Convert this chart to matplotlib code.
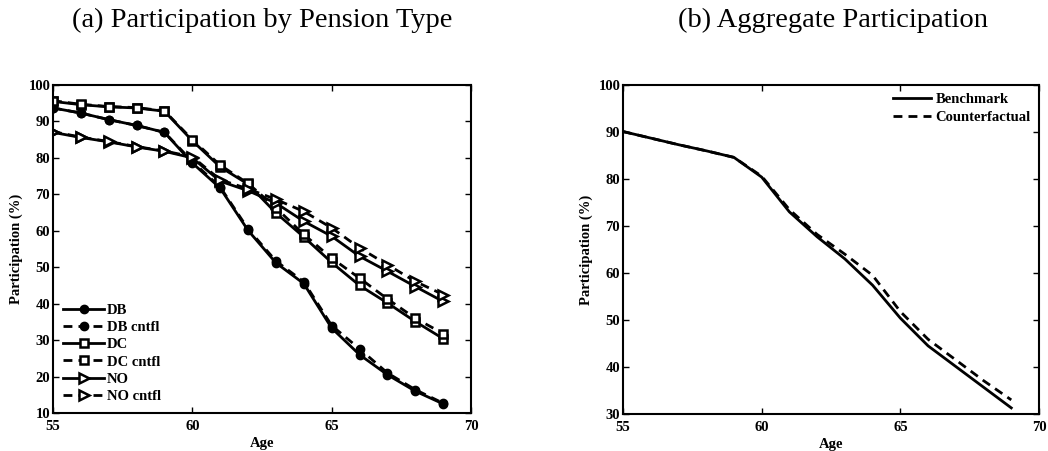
import matplotlib
matplotlib.use("Agg")
import matplotlib.pyplot as plt

ages = [55, 56, 57, 58, 59, 60, 61, 62, 63, 64, 65, 66, 67, 68, 69]

db = [93.7, 92.3, 90.5, 88.9, 87.0, 78.6, 71.7, 60.1, 51.2, 45.5, 33.3, 26.0, 20.5, 16.0, 12.5]
db_cf = [93.7, 92.3, 90.5, 88.9, 87.0, 79.0, 72.0, 60.5, 51.7, 46.0, 34.0, 27.6, 21.0, 16.4, 12.7]
dc = [95.5, 94.6, 94.0, 93.7, 92.8, 84.7, 77.5, 72.8, 64.9, 58.3, 51.3, 45.0, 40.2, 35.1, 30.4]
dc_cf = [95.7, 94.7, 94.1, 93.8, 92.9, 85.0, 78.0, 73.0, 66.3, 59.0, 52.5, 47.0, 41.3, 36.0, 31.8]
no = [87.0, 85.6, 84.4, 83.0, 81.8, 80.0, 73.6, 71.0, 67.6, 62.6, 58.5, 53.0, 48.9, 44.7, 40.6]
no_cf = [87.2, 85.7, 84.5, 83.1, 81.9, 80.3, 74.0, 71.5, 68.6, 65.3, 60.8, 55.3, 50.7, 46.1, 42.5]

bench = [90.1, 88.7, 87.3, 86.0, 84.6, 80.4, 73.0, 67.7, 63.0, 57.4, 50.4, 44.5, 40.1, 35.7, 31.3]
cntf = [90.1, 88.7, 87.3, 86.0, 84.6, 80.6, 73.5, 68.2, 64.0, 59.5, 51.8, 45.9, 41.5, 37.1, 33.0]

xticks = [55, 60, 65, 70]

plt.rcParams['font.family'] = ['Liberation Serif', 'DejaVu Serif']
plt.rcParams['font.weight'] = 'bold'

fs = 10.5
dash = (3.2, 2.2)

fig = plt.figure(figsize=(10.48, 4.51), dpi=100)
ax1 = fig.add_axes([53/1048, 1-413/451, 418/1048, 328/451])
ax2 = fig.add_axes([623/1048, 1-414/451, 416/1048, 329/451])

lw = 2.0
ms = 6
mew = 1.8
ax1.plot(ages, db, '-', color='k', lw=lw, marker='o', ms=ms, mfc='k', mec='k', label='DB')
ax1.plot(ages, db_cf, '--', color='k', lw=lw, dashes=dash, marker='o', ms=ms, mfc='k', mec='k', label='DB cntfl')
ax1.plot(ages, dc, '-', color='k', lw=lw, marker='s', ms=ms, mfc='white', mec='k', mew=mew, label='DC')
ax1.plot(ages, dc_cf, '--', color='k', lw=lw, dashes=dash, marker='s', ms=ms, mfc='white', mec='k', mew=mew, label='DC cntfl')
ax1.plot(ages, no, '-', color='k', lw=lw, marker='>', ms=ms+1, mfc='white', mec='k', mew=mew, label='NO')
ax1.plot(ages, no_cf, '--', color='k', lw=lw, dashes=dash, marker='>', ms=ms+1, mfc='white', mec='k', mew=mew, label='NO cntfl')

ax1.set_xlim(55, 70)
ax1.set_ylim(10, 100)
ax1.set_yticks(range(10, 101, 10))

ax2.plot(ages, bench, '-', color='k', lw=lw, label='Benchmark')
ax2.plot(ages, cntf, '--', color='k', lw=lw, dashes=dash, label='Counterfactual')
ax2.set_xlim(55, 70)
ax2.set_ylim(30, 100)
ax2.set_yticks(range(30, 101, 10))

for ax in (ax1, ax2):
    ax.set_xticks(xticks)
    ax.tick_params(direction='in', top=True, right=True, labelsize=fs, length=4, width=1)
    ax.tick_params(axis='x', pad=5)
    ax.tick_params(axis='y', pad=2)
    for lab in ax.get_xticklabels() + ax.get_yticklabels():
        lab.set_fontweight('bold')
    for s in ax.spines.values():
        s.set_linewidth(1.5)
    ax.set_xlabel('Age', fontsize=fs, fontweight='bold', labelpad=3)
    ax.set_ylabel('Participation (%)', fontsize=fs, fontweight='bold', labelpad=4)

ax1.legend(loc='lower left', frameon=False, handlelength=2.8,
           handletextpad=0.2, labelspacing=0.27, borderaxespad=0.3,
           prop={'weight': 'bold', 'size': fs})
ax2.legend(loc='upper right', frameon=False, handlelength=2.6,
           handletextpad=0.3, labelspacing=0.3, borderaxespad=0.15,
           prop={'weight': 'bold', 'size': fs})

fig.text(262/1048, 1-20/451, '(a) Participation by Pension Type', ha='center', va='center',
         fontsize=20.5, fontweight='normal')
fig.text(833/1048, 1-20/451, '(b) Aggregate Participation', ha='center', va='center',
         fontsize=20.5, fontweight='normal')

fig.savefig('out.png', dpi=100)
